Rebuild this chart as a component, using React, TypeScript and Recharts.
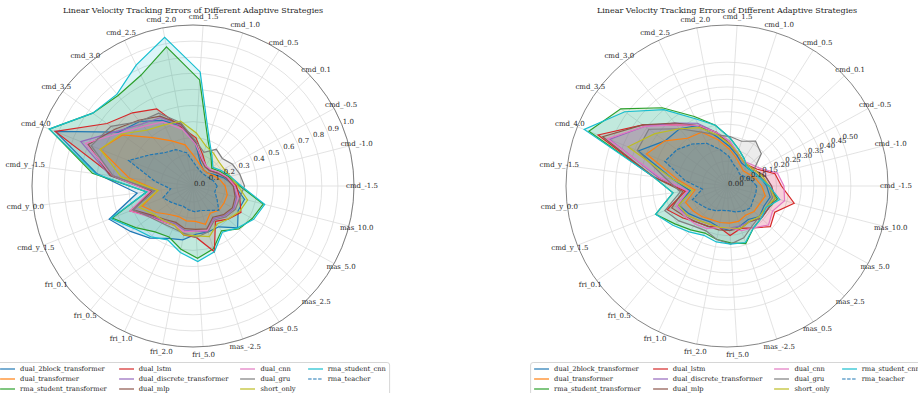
import React from "react";
import {
  PolarAngleAxis,
  PolarGrid,
  PolarRadiusAxis,
  Radar,
  RadarChart,
} from "recharts";

// ---------------------------------------------------------------------------
// Data
// ---------------------------------------------------------------------------

const TITLE = "Linear Velocity Tracking Errors of Different Adaptive Strategies";

const CATEGORIES = [
  "cmd_-1.5", "cmd_-1.0", "cmd_-0.5", "cmd_0.1", "cmd_0.5", "cmd_1.0", "cmd_1.5",
  "cmd_2.0", "cmd_2.5", "cmd_3.0", "cmd_3.5", "cmd_4.0", "cmd_y_-1.5", "cmd_y_0.0",
  "cmd_y_1.5", "fri_0.1", "fri_0.5", "fri_1.0", "fri_2.0", "fri_5.0", "mas_-2.5",
  "mas_0.5", "mas_2.5", "mas_5.0", "mas_10.0",
];

// left panel (0 .. 1.0)
const LEFT_DUAL_2BLOCK = [0.26, 0.2, 0.15, 0.12, 0.12, 0.15, 0.26, 0.38, 0.45, 0.52, 0.57, 0.92, 0.6, 0.35, 0.56, 0.48, 0.42, 0.36, 0.34, 0.3, 0.3, 0.3, 0.38, 0.32, 0.33];
const LEFT_DUAL_TRANSFORMER = [0.2, 0.17, 0.14, 0.12, 0.12, 0.14, 0.18, 0.26, 0.31, 0.39, 0.54, 0.62, 0.4, 0.22, 0.34, 0.28, 0.23, 0.21, 0.22, 0.22, 0.25, 0.2, 0.22, 0.22, 0.22];
const LEFT_RMA_STUDENT_TRANSFORMER = [0.29, 0.23, 0.19, 0.16, 0.21, 0.3, 0.66, 0.88, 0.76, 0.73, 0.77, 0.96, 0.63, 0.29, 0.54, 0.44, 0.37, 0.35, 0.4, 0.45, 0.41, 0.33, 0.39, 0.42, 0.45];
const LEFT_DUAL_LSTM = [0.27, 0.22, 0.17, 0.14, 0.15, 0.2, 0.3, 0.37, 0.53, 0.59, 0.66, 0.92, 0.5, 0.26, 0.42, 0.32, 0.29, 0.27, 0.31, 0.32, 0.43, 0.26, 0.3, 0.34, 0.3];
const LEFT_DUAL_DISCRETE = [0.25, 0.21, 0.17, 0.14, 0.15, 0.18, 0.27, 0.38, 0.47, 0.5, 0.58, 0.75, 0.52, 0.25, 0.4, 0.32, 0.28, 0.26, 0.28, 0.28, 0.3, 0.24, 0.27, 0.29, 0.28];
const LEFT_DUAL_MLP = [0.25, 0.21, 0.17, 0.14, 0.14, 0.17, 0.27, 0.39, 0.48, 0.53, 0.6, 0.7, 0.52, 0.26, 0.4, 0.31, 0.27, 0.25, 0.27, 0.27, 0.28, 0.23, 0.26, 0.28, 0.27];
const LEFT_DUAL_CNN = [0.26, 0.22, 0.18, 0.15, 0.15, 0.18, 0.26, 0.36, 0.44, 0.48, 0.56, 0.72, 0.5, 0.27, 0.42, 0.33, 0.29, 0.27, 0.29, 0.28, 0.29, 0.25, 0.28, 0.3, 0.29];
const LEFT_DUAL_GRU = [0.32, 0.3, 0.28, 0.25, 0.27, 0.22, 0.28, 0.4, 0.5, 0.52, 0.63, 0.68, 0.5, 0.24, 0.4, 0.33, 0.3, 0.29, 0.3, 0.32, 0.3, 0.25, 0.28, 0.3, 0.3];
const LEFT_SHORT_ONLY = [0.28, 0.24, 0.22, 0.22, 0.24, 0.26, 0.33, 0.41, 0.42, 0.45, 0.55, 0.62, 0.45, 0.22, 0.36, 0.3, 0.28, 0.27, 0.31, 0.31, 0.33, 0.28, 0.3, 0.33, 0.35];
const LEFT_RMA_STUDENT_CNN = [0.3, 0.24, 0.2, 0.17, 0.22, 0.32, 0.71, 0.94, 0.83, 0.74, 0.77, 0.96, 0.61, 0.29, 0.55, 0.45, 0.41, 0.37, 0.42, 0.47, 0.43, 0.34, 0.38, 0.43, 0.46];
const LEFT_RMA_TEACHER = [0.15, 0.13, 0.11, 0.1, 0.1, 0.11, 0.14, 0.21, 0.25, 0.27, 0.33, 0.43, 0.24, 0.14, 0.2, 0.17, 0.15, 0.14, 0.15, 0.16, 0.16, 0.18, 0.22, 0.17, 0.14];

// right panel (0 .. 0.65)
const RIGHT_DUAL_2BLOCK = [0.16, 0.14, 0.12, 0.11, 0.11, 0.13, 0.16, 0.2, 0.27, 0.3, 0.31, 0.385, 0.22, 0.15, 0.21, 0.19, 0.17, 0.16, 0.17, 0.18, 0.17, 0.16, 0.18, 0.17, 0.18];
const RIGHT_DUAL_TRANSFORMER = [0.14, 0.12, 0.1, 0.09, 0.1, 0.12, 0.15, 0.19, 0.24, 0.25, 0.31, 0.35, 0.2, 0.13, 0.18, 0.17, 0.16, 0.15, 0.15, 0.15, 0.15, 0.14, 0.15, 0.15, 0.16];
const RIGHT_RMA_STUDENT_TRANSFORMER = [0.17, 0.14, 0.12, 0.11, 0.13, 0.155, 0.195, 0.25, 0.31, 0.41, 0.53, 0.6, 0.3, 0.22, 0.31, 0.26, 0.23, 0.21, 0.22, 0.23, 0.245, 0.2, 0.19, 0.19, 0.21];
const RIGHT_DUAL_LSTM = [0.22, 0.2, 0.14, 0.12, 0.12, 0.14, 0.17, 0.22, 0.27, 0.32, 0.42, 0.56, 0.3, 0.17, 0.26, 0.22, 0.19, 0.18, 0.17, 0.2, 0.18, 0.2, 0.24, 0.22, 0.28];
const RIGHT_DUAL_DISCRETE = [0.18, 0.16, 0.13, 0.12, 0.12, 0.14, 0.18, 0.22, 0.28, 0.33, 0.41, 0.51, 0.28, 0.16, 0.22, 0.2, 0.18, 0.17, 0.17, 0.17, 0.17, 0.17, 0.19, 0.19, 0.2];
const RIGHT_DUAL_MLP = [0.18, 0.16, 0.13, 0.12, 0.12, 0.14, 0.17, 0.22, 0.27, 0.33, 0.42, 0.54, 0.3, 0.18, 0.24, 0.21, 0.19, 0.18, 0.18, 0.18, 0.18, 0.17, 0.19, 0.19, 0.2];
const RIGHT_DUAL_CNN = [0.23, 0.21, 0.15, 0.13, 0.12, 0.14, 0.18, 0.22, 0.27, 0.32, 0.41, 0.52, 0.27, 0.16, 0.22, 0.21, 0.2, 0.19, 0.17, 0.17, 0.19, 0.2, 0.23, 0.21, 0.24];
const RIGHT_DUAL_GRU = [0.17, 0.14, 0.12, 0.19, 0.215, 0.19, 0.2, 0.21, 0.24, 0.3, 0.39, 0.39, 0.25, 0.19, 0.27, 0.24, 0.21, 0.2, 0.22, 0.235, 0.22, 0.19, 0.18, 0.18, 0.19];
const RIGHT_SHORT_ONLY = [0.17, 0.15, 0.13, 0.12, 0.12, 0.14, 0.17, 0.21, 0.26, 0.3, 0.36, 0.43, 0.22, 0.14, 0.21, 0.2, 0.18, 0.17, 0.17, 0.17, 0.18, 0.17, 0.18, 0.18, 0.2];
const RIGHT_RMA_STUDENT_CNN = [0.17, 0.135, 0.12, 0.11, 0.13, 0.155, 0.195, 0.25, 0.3, 0.4, 0.51, 0.62, 0.3, 0.22, 0.31, 0.27, 0.24, 0.22, 0.23, 0.235, 0.24, 0.2, 0.19, 0.18, 0.22];
const RIGHT_RMA_TEACHER = [0.12, 0.1, 0.08, 0.07, 0.08, 0.09, 0.12, 0.15, 0.19, 0.22, 0.25, 0.27, 0.17, 0.1, 0.15, 0.13, 0.12, 0.11, 0.1, 0.1, 0.11, 0.12, 0.13, 0.12, 0.12];

const LEFT_TICKS = [0, 0.1, 0.2, 0.3, 0.4, 0.5, 0.6, 0.7, 0.8, 0.9, 1.0];
const RIGHT_TICKS = [0, 0.05, 0.1, 0.15, 0.2, 0.25, 0.3, 0.35, 0.4, 0.45, 0.5];
const LEFT_MAX = 1.0;
const RIGHT_MAX = 0.65;

// matplotlib tab10 order
const SERIES = [
  { key: "dual_2block_transformer", color: "#1f77b4", left: LEFT_DUAL_2BLOCK, right: RIGHT_DUAL_2BLOCK },
  { key: "dual_transformer", color: "#ff7f0e", left: LEFT_DUAL_TRANSFORMER, right: RIGHT_DUAL_TRANSFORMER },
  { key: "rma_student_transformer", color: "#2ca02c", left: LEFT_RMA_STUDENT_TRANSFORMER, right: RIGHT_RMA_STUDENT_TRANSFORMER },
  { key: "dual_lstm", color: "#d62728", left: LEFT_DUAL_LSTM, right: RIGHT_DUAL_LSTM },
  { key: "dual_discrete_transformer", color: "#9467bd", left: LEFT_DUAL_DISCRETE, right: RIGHT_DUAL_DISCRETE },
  { key: "dual_mlp", color: "#8c564b", left: LEFT_DUAL_MLP, right: RIGHT_DUAL_MLP },
  { key: "dual_cnn", color: "#e377c2", left: LEFT_DUAL_CNN, right: RIGHT_DUAL_CNN },
  { key: "dual_gru", color: "#7f7f7f", left: LEFT_DUAL_GRU, right: RIGHT_DUAL_GRU },
  { key: "short_only", color: "#bcbd22", left: LEFT_SHORT_ONLY, right: RIGHT_SHORT_ONLY },
  { key: "rma_student_cnn", color: "#17becf", left: LEFT_RMA_STUDENT_CNN, right: RIGHT_RMA_STUDENT_CNN },
  { key: "rma_teacher", color: "#1f77b4", dashed: true, left: LEFT_RMA_TEACHER, right: RIGHT_RMA_TEACHER },
];

const FONT = "'DejaVu Serif', serif";
const TEXT = "#262626";
const RADIUS = 161;
const CY = 186;
const ANGLE_TICKS = CATEGORIES.map((_, i) => i);

// numeric angle axis: idx 0 sits at 0 deg (east), counter-clockwise like matplotlib
function buildRows(side: "left" | "right") {
  return CATEGORIES.map((category, i) => {
    const row: Record<string, string | number> = { idx: i, category };
    SERIES.forEach((s) => {
      row[s.key] = s[side][i];
    });
    return row;
  });
}

function AngleTick(props: any) {
  const { x, y, payload } = props;
  return (
    <text x={x} y={y} textAnchor="middle" dominantBaseline="central" fontSize={7} fontFamily={FONT} fill={TEXT}>
      {CATEGORIES[payload.value]}
    </text>
  );
}

function radiusTick(decimals: number) {
  return (props: any) => {
    const { x, y, payload } = props;
    return (
      <text x={x + 1} y={y - 2} textAnchor="start" dominantBaseline="central" fontSize={7} fontFamily={FONT} fill={TEXT}>
        {Number(payload.value).toFixed(decimals)}
      </text>
    );
  };
}

function Legend({ cx }: { cx: number }) {
  return (
    <div
      style={{
        position: "absolute",
        left: cx,
        top: 362,
        transform: "translateX(-50%)",
        border: "1px solid #d6d6d6",
        borderRadius: 3,
        padding: "1px 3px",
        display: "grid",
        gridTemplateRows: "repeat(3, 10px)",
        gridAutoFlow: "column",
        columnGap: 12,
        fontFamily: FONT,
        fontSize: 6.7,
        color: TEXT,
        background: "#fff",
        whiteSpace: "nowrap",
      }}
    >
      {SERIES.map((s) => (
        <div key={s.key} style={{ display: "flex", alignItems: "center" }}>
          <svg width={15} height={4} style={{ display: "block" }}>
            <line x1={0} y1={2} x2={15} y2={2} stroke={s.color} strokeWidth={1.2} strokeDasharray={s.dashed ? "3.5 1.5" : undefined} />
          </svg>
          <span style={{ marginLeft: 5 }}>{s.key}</span>
        </div>
      ))}
    </div>
  );
}

function Panel({ side, left, cx }: { side: "left" | "right"; left: number; cx: number }) {
  const rows = buildRows(side);
  const max = side === "left" ? LEFT_MAX : RIGHT_MAX;
  const ticks = side === "left" ? LEFT_TICKS : RIGHT_TICKS;
  const decimals = side === "left" ? 1 : 2;
  // tickCount keeps the nice domain exactly at [0, max] (0.1 / 0.05 steps)
  const tickCount = side === "left" ? 11 : 14;
  return (
    <div style={{ position: "absolute", left, top: 0, width: 459, height: 393 }}>
      <div
        style={{
          position: "absolute",
          left: cx,
          top: 5,
          transform: "translateX(-50%)",
          fontFamily: FONT,
          fontSize: 8,
          color: TEXT,
          whiteSpace: "nowrap",
          lineHeight: "12px",
        }}
      >
        {TITLE}
      </div>
      <RadarChart
        width={459}
        height={393}
        data={rows}
        cx={cx}
        cy={CY}
        outerRadius={RADIUS}
        startAngle={0}
        endAngle={360}
        margin={{ top: 0, right: 0, bottom: 0, left: 0 }}
        style={{ position: "absolute", left: 0, top: 0 }}
      >
        {SERIES.map((s) => (
          <Radar
            key={`fill-${s.key}`}
            dataKey={s.key}
            stroke="none"
            fill={s.color}
            fillOpacity={0.15}
            dot={false}
            isAnimationActive={false}
          />
        ))}
        <PolarGrid gridType="circle" stroke="#dcdcdc" strokeWidth={0.8} />
        {SERIES.map((s) => (
          <Radar
            key={`line-${s.key}`}
            dataKey={s.key}
            stroke={s.color}
            strokeWidth={1.2}
            strokeDasharray={s.dashed ? "3.5 1.5" : undefined}
            fill="none"
            fillOpacity={0}
            dot={false}
            isAnimationActive={false}
          />
        ))}
        <PolarAngleAxis
          dataKey="idx"
          type="number"
          domain={[0, CATEGORIES.length]}
          ticks={ANGLE_TICKS as any}
          tick={AngleTick}
          tickLine={false}
          tickSize={8}
          axisLineType="circle"
          axisLine={{ stroke: "#666", strokeWidth: 0.8 }}
        />
        <PolarRadiusAxis
          angle={22.5}
          type="number"
          domain={[0, max]}
          allowDecimals
          allowDataOverflow
          tickCount={tickCount}
          ticks={ticks as any}
          axisLine={false}
          tickLine={false}
          tick={radiusTick(decimals)}
        />
      </RadarChart>
      <Legend cx={cx} />
    </div>
  );
}

export default function App() {
  return (
    <div
      style={{
        position: "absolute",
        left: 0,
        top: 0,
        width: 918,
        height: 393,
        overflow: "hidden",
        background: "#fff",
      }}
    >
      <Panel side="left" left={0} cx={193} />
      <Panel side="right" left={459} cx={268} />
    </div>
  );
}
